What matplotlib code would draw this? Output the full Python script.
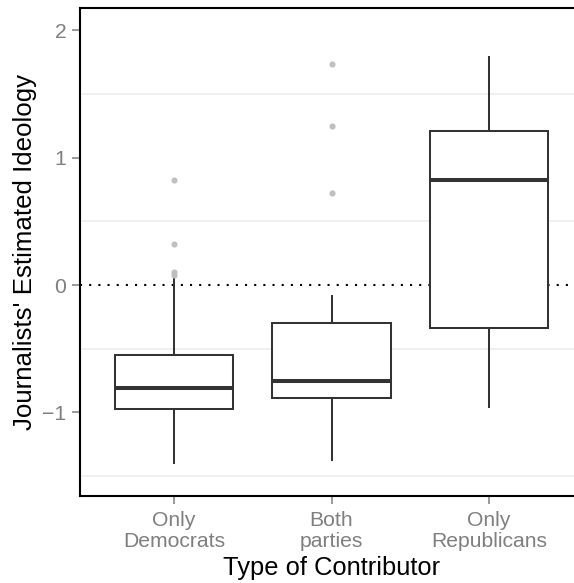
import matplotlib
matplotlib.use("Agg")
import matplotlib.pyplot as plt
from matplotlib.ticker import FixedLocator

plt.rcParams['font.family'] = ['Liberation Sans', 'DejaVu Sans']

categories = ["Only\nDemocrats", "Both\nparties", "Only\nRepublicans"]
whislo = [-1.40, -1.37, -0.96]
q1 = [-0.97, -0.89, -0.34]
median = [-0.81, -0.75, 0.82]
q3 = [-0.55, -0.30, 1.21]
whishi = [0.06, -0.09, 1.79]
outliers = [[0.82, 0.32, 0.10, 0.08], [1.73, 1.25, 0.72], []]
y_ticks = [-1, 0, 1, 2]
y_tick_labels = ['\u22121', '0', '1', '2']

W, H = 574, 583
fig = plt.figure(figsize=(W / 100, H / 100), dpi=100)
left_px, right_px, top_px, bot_px = 79.5, 583.5, 8, 496
ax = fig.add_axes([left_px / W, (H - bot_px) / H,
                   (right_px - left_px) / W, (bot_px - top_px) / H])

stats = []
for i in range(len(categories)):
    stats.append(dict(med=median[i], q1=q1[i], q3=q3[i], whislo=whislo[i],
                      whishi=whishi[i], fliers=outliers[i], label=categories[i]))

positions = list(range(1, len(categories) + 1))

ax.set_xlim(0.4, 3.6)
ax.set_ylim(-1.655, 2.173)
ax.yaxis.set_major_locator(FixedLocator(y_ticks))
ax.yaxis.set_minor_locator(FixedLocator([-1.5, -0.5, 0.5, 1.5]))
ax.set_axisbelow(True)
ax.grid(which='minor', axis='y', color='#f0f0f0', linewidth=1.4, zorder=0)
ax.grid(which='major', axis='both', color='white', linewidth=2.0, zorder=0.5)
ax.tick_params(which='minor', length=0)

ax.axhline(0, color='black', linestyle=(0, (1, 3.4)), linewidth=1.5, zorder=1)

box_col = '#333333'
ax.bxp(stats, positions=positions, widths=0.75, showcaps=False,
       patch_artist=True,
       boxprops=dict(facecolor='white', edgecolor=box_col, linewidth=1.45),
       whiskerprops=dict(color=box_col, linewidth=1.45),
       medianprops=dict(color=box_col, linewidth=2.9, solid_capstyle='butt'),
       flierprops=dict(marker='o', markerfacecolor='#bfbfbf', markeredgecolor='#bfbfbf',
                       markersize=3.4, linestyle='none'),
       zorder=2)

ax.set_xlim(0.4, 3.6)
ax.set_ylim(-1.655, 2.173)
ax.set_xticks(positions)
ax.set_xticklabels(categories)
ax.set_yticklabels(y_tick_labels)

for s in ['left', 'top', 'bottom']:
    ax.spines[s].set_linewidth(1.5)
    ax.spines[s].set_color('black')
ax.spines['right'].set_visible(False)

ax.tick_params(which='major', axis='both', colors='#7f7f7f', labelcolor='#7f7f7f',
               labelsize=15.2, length=5.5, width=1.1)
ax.tick_params(axis='x', pad=5)
ax.tick_params(axis='y', pad=4)
for lab in ax.get_xticklabels():
    lab.set_linespacing(1.18)

ax.set_xlabel("Type of Contributor", fontsize=18.4, color='black', labelpad=0)
ax.set_ylabel("Journalists' Estimated Ideology", fontsize=18.6, color='black')
ax.yaxis.set_label_coords((37 - left_px) / (right_px - left_px), 0.5)
ax.xaxis.set_label_coords(0.5, -(575 - bot_px) / (bot_px - top_px))
ax.xaxis.label.set_va('baseline')

fig.savefig("out.png", dpi=100)
